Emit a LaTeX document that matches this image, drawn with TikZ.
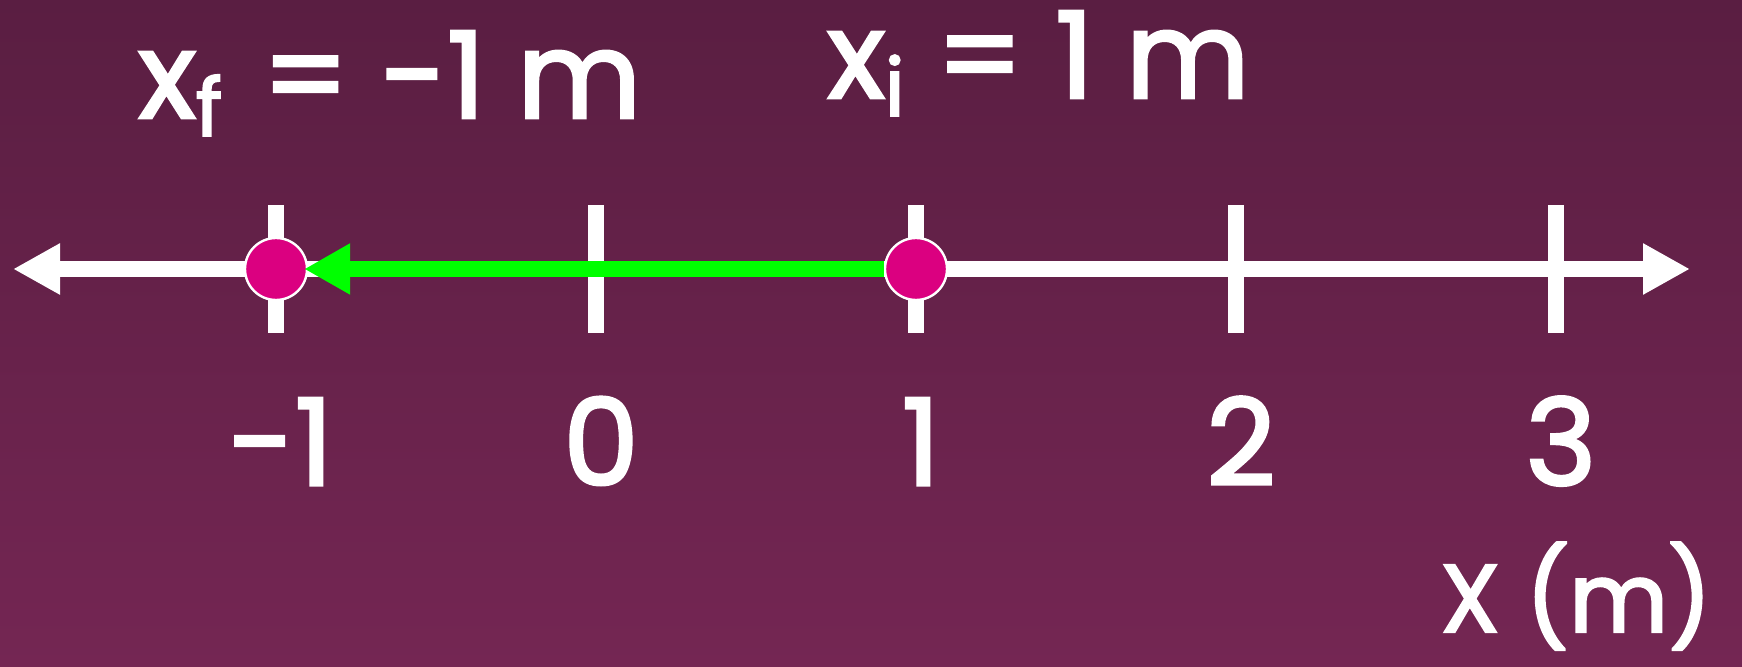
\documentclass[tikz,border=0pt]{standalone}
\usepackage{fontspec}
\setmainfont{Poppins}[BoldFont=Poppins,BoldFeatures={FakeBold=2.5}]
\usetikzlibrary{arrows.meta}
\definecolor{bgtop}{HTML}{5A1E42}
\definecolor{bgbottom}{HTML}{742653}
\definecolor{dotpink}{HTML}{DB0080}
\definecolor{movegreen}{HTML}{00FF00}
\tikzset{every node/.style={text=white,inner sep=0pt},line cap=butt,line join=miter}
\newcommand{\lowidx}[1]{\raisebox{-0.15em}{\fontsize{40}{44}\selectfont #1}}

\begin{document}
\begin{tikzpicture}[x=0.5pt,y=-0.5pt,
  axis/.style={white,line width=8pt},
  tickmark/.style={white,line width=8pt},
  dot/.style={circle,fill=dotpink,draw=white,line width=1.2pt,minimum size=31pt},
  big/.style={font=\fontsize{60}{66}\selectfont\bfseries}]
  \path[use as bounding box,top color=bgtop,bottom color=bgbottom] (0,0) rectangle (1742,667);
  % ticks and their values
  \foreach \v/\px in {-1/276,0/596,1/916,2/1236,3/1556} {
    \draw[tickmark] (\px,205) -- (\px,333);
    \node[big,anchor=base] (val\px) at (\px+5,485) {\v};
  }
  \coordinate (west) at (13,269);
  \coordinate (east) at (1690,269);
  \draw[axis,{Triangle[length=23.5pt,width=24pt]}-{Triangle[length=23.5pt,width=24pt]}] (west) -- (east);
  % start and end points
  \node[dot] (xf) at (276,269) {};
  \node[dot] (xi) at (916,269) {};
  \draw[movegreen,line width=8pt,-{Triangle[length=23pt,width=24pt]},shorten >=-2pt] (xi) -- (xf);
  \node[big,anchor=base west] (final) at (138,118) {x\lowidx{f}\hspace{4pt} = -1 m};
  \node[big,anchor=base west] (initial) at (827,98) {x\lowidx{i} = 1 m};
  \node[big,anchor=base west,font=\fontsize{48}{54}\selectfont\bfseries] (unit) at (1440,632) {X (m)};
\end{tikzpicture}
\end{document}
